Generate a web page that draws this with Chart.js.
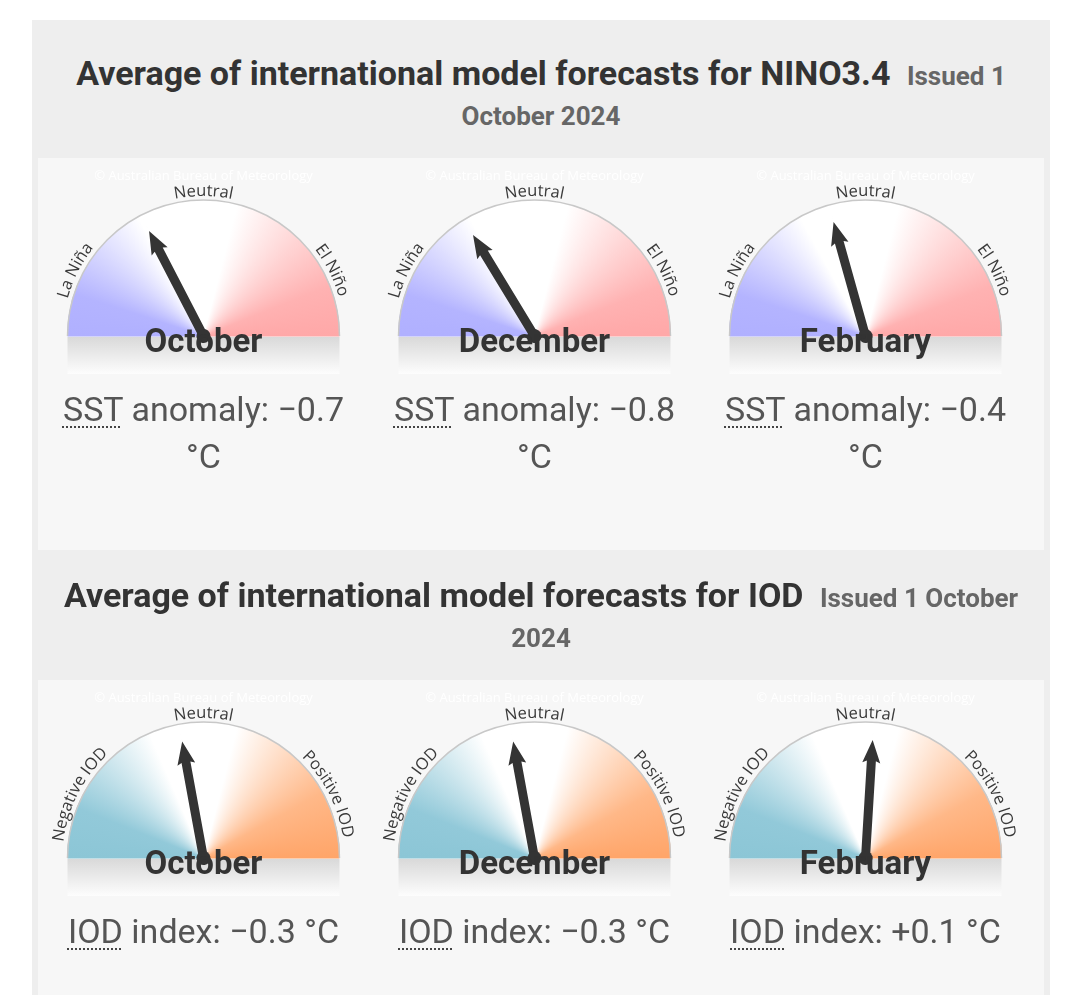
<!DOCTYPE html>
<html>
<head>
<meta charset="utf-8">
<title>ENSO and IOD outlook dials</title>
<script src="https://cdn.jsdelivr.net/npm/chart.js@4.4.1/dist/chart.umd.min.js"></script>
<style>
  body { margin: 0; background: #fff; font-family: Roboto, "Noto Sans", sans-serif; }
  .box { position: absolute; left: 32px; top: 20px; width: 1018px; height: 1000px;
         background: #eee; padding: 8px 6px 0; box-sizing: border-box; }
  h2 { margin: 25px 8px; font-size: 34px; line-height: 40px; font-weight: 700;
       color: #333; text-align: center; }
  h2 small { font-size: 26px; line-height: 26px; color: #666; margin-left: 8px; }
  .panel { background: #f7f7f7; display: flex; height: 392px; }
  .panel.last { height: 400px; }
  .col { width: 331px; text-align: center; }
  .col canvas { display: block; }
  .val { margin: 2px 15px 0; font-size: 34px; line-height: 47px; color: #555; }
  abbr { text-decoration: underline dotted #444; text-decoration-thickness: 2px;
         text-underline-offset: 5px; }
</style>
</head>
<body>
<div class="box">
  <h2>Average of international model forecasts for NINO3.4 <small>Issued 1 October 2024</small></h2>
  <div class="panel" id="nino"></div>
  <h2>Average of international model forecasts for IOD <small>Issued 1 October 2024</small></h2>
  <div class="panel last" id="iod"></div>
</div>

<script>
// forecast months and averaged model values (°C)
const months = ['October', 'December', 'February'];
const ninoValues = [-0.7, -0.8, -0.4];
const iodValues = [-0.3, -0.3, 0.1];

// dial ranges (left end, right end)
const ninoRange = [-2.3, 2.3];
const iodRange = [-2.6, 2.6];

// phase names around each dial: left, top, right
const ninoPhases = ['La Niña', 'Neutral', 'El Niño'];
const iodPhases = ['Negative IOD', 'Neutral', 'Positive IOD'];

const GAUGE_R = 136;
const DEG = Math.PI / 180;

// colour stops of the dial face, 0 = left, 0.25 = top, 0.5 = right
const ninoStops = [
  [0, 'rgb(176,176,255)'], [0.05, 'rgb(180,180,255)'], [0.17, '#ffffff'],
  [0.29, '#ffffff'], [0.44, 'rgb(255,178,178)'], [0.5, 'rgb(255,168,168)'], [1, 'rgb(176,176,255)']
];
const iodStops = [
  [0, 'rgb(140,198,214)'], [0.06, 'rgb(146,201,217)'], [0.185, '#ffffff'],
  [0.29, '#ffffff'], [0.42, 'rgb(255,184,136)'], [0.5, 'rgb(255,165,105)'], [1, 'rgb(140,198,214)']
];

function faceFill(stops) {
  return function (c) {
    const chart = c.chart;
    const area = chart.chartArea;
    if (!area) return 'transparent';
    const ctrl = chart.getDatasetMeta(0).controller;
    const cx = (area.left + area.right) / 2 + (ctrl.offsetX || 0);
    const cy = (area.top + area.bottom) / 2 + (ctrl.offsetY !== undefined ? ctrl.offsetY : GAUGE_R / 2);
    const g = chart.ctx.createConicGradient(Math.PI, cx, cy);
    stops.forEach(s => g.addColorStop(s[0], s[1]));
    return g;
  };
}

// write text clockwise along a circle, letters standing outward
function arcText(ctx, text, cx, cy, radius, mid) {
  const chars = [...text];
  const widths = chars.map(ch => ctx.measureText(ch).width);
  const total = widths.reduce((a, b) => a + b, 0);
  let ang = mid - total / 2 / radius;
  ctx.textAlign = 'center';
  ctx.textBaseline = 'alphabetic';
  chars.forEach((ch, i) => {
    const a = ang + widths[i] / 2 / radius;
    ctx.save();
    ctx.translate(cx + radius * Math.cos(a), cy + radius * Math.sin(a));
    ctx.rotate(a + Math.PI / 2);
    ctx.fillText(ch, 0, 0);
    ctx.restore();
    ang += widths[i] / radius;
  });
}

const gaugeDecor = {
  id: 'gaugeDecor',
  afterDatasetsDraw(chart, args, opts) {
    const ctx = chart.ctx;
    const arc = chart.getDatasetMeta(0).data[0];
    const cx = arc.x, cy = arc.y, r = arc.outerRadius;
    ctx.save();

    // rim
    ctx.beginPath();
    ctx.arc(cx, cy, r, Math.PI, 2 * Math.PI);
    ctx.strokeStyle = '#c8c8c8';
    ctx.lineWidth = 1.5;
    ctx.stroke();

    // shaded base under the dial
    const band = ctx.createLinearGradient(0, cy + 1, 0, cy + 38);
    band.addColorStop(0, '#d9d9d9');
    band.addColorStop(1, '#fdfdfd');
    ctx.fillStyle = band;
    ctx.fillRect(cx - r, cy + 1, 2 * r, 37);

    // watermark
    ctx.font = '13px "Open Sans"';
    ctx.fillStyle = '#ffffff';
    ctx.textAlign = 'center';
    ctx.fillText('© Australian Bureau of Meteorology', cx, cy - r - 20);

    // phase names
    ctx.font = '16.5px "Open Sans"';
    ctx.fillStyle = '#3a3a3a';
    arcText(ctx, opts.phases[0], cx, cy, r + 5, Math.PI + 27 * DEG);
    arcText(ctx, opts.phases[1], cx, cy, r + 4, 1.5 * Math.PI);
    arcText(ctx, opts.phases[2], cx, cy, r + 5, 2 * Math.PI - 27 * DEG);

    // needle along the end of the first slice
    const L = r * 0.87;
    ctx.save();
    ctx.translate(cx, cy);
    ctx.rotate(arc.endAngle);
    ctx.fillStyle = '#343434';
    ctx.beginPath();
    ctx.moveTo(0, -4.5);
    ctx.lineTo(L - 21, -4.5);
    ctx.lineTo(L - 23, -9);
    ctx.lineTo(L, 0);
    ctx.lineTo(L - 23, 9);
    ctx.lineTo(L - 21, 4.5);
    ctx.lineTo(0, 4.5);
    ctx.closePath();
    ctx.fill();
    ctx.beginPath();
    ctx.arc(0, 0, 7, 0, 2 * Math.PI);
    ctx.fill();
    ctx.restore();

    // month
    ctx.font = 'bold 33px Roboto';
    ctx.fillStyle = '#333';
    ctx.textAlign = 'center';
    ctx.textBaseline = 'alphabetic';
    ctx.fillText(opts.month, cx, cy + 16);

    ctx.restore();
  }
};

function fmt(v) {
  return (v < 0 ? '\u2212' : '+') + Math.abs(v).toFixed(1);
}

function buildRow(panelId, values, range, phases, stops, abbrText, word) {
  const panel = document.getElementById(panelId);
  values.forEach((v, i) => {
    const col = document.createElement('div');
    col.className = 'col';
    const canvas = document.createElement('canvas');
    canvas.width = 331;
    canvas.height = 226;
    col.appendChild(canvas);
    const val = document.createElement('div');
    val.className = 'val';
    val.innerHTML = '<abbr>' + abbrText + '</abbr> ' + word + ': ' + fmt(v) + ' °C';
    col.appendChild(val);
    panel.appendChild(col);

    const fill = faceFill(stops);
    new Chart(canvas, {
      type: 'doughnut',
      data: {
        labels: ['below', 'above'],
        datasets: [{
          data: [v - range[0], range[1] - v],
          backgroundColor: fill,
          borderColor: fill,
          borderWidth: 1
        }]
      },
      options: {
        responsive: false,
        animation: false,
        events: [],
        circumference: 180,
        rotation: -90,
        cutout: 0,
        radius: GAUGE_R,
        layout: { padding: { bottom: 6 } },
        plugins: {
          legend: { display: false },
          tooltip: { enabled: false },
          gaugeDecor: { phases: phases, month: months[i] }
        }
      },
      plugins: [gaugeDecor]
    });
  });
}

Promise.all([
  document.fonts.load('bold 33px Roboto'),
  document.fonts.load('16.5px "Open Sans"')
]).catch(() => {}).then(() => {
  buildRow('nino', ninoValues, ninoRange, ninoPhases, ninoStops, 'SST', 'anomaly');
  buildRow('iod', iodValues, iodRange, iodPhases, iodStops, 'IOD', 'index');
});
</script>
</body>
</html>
